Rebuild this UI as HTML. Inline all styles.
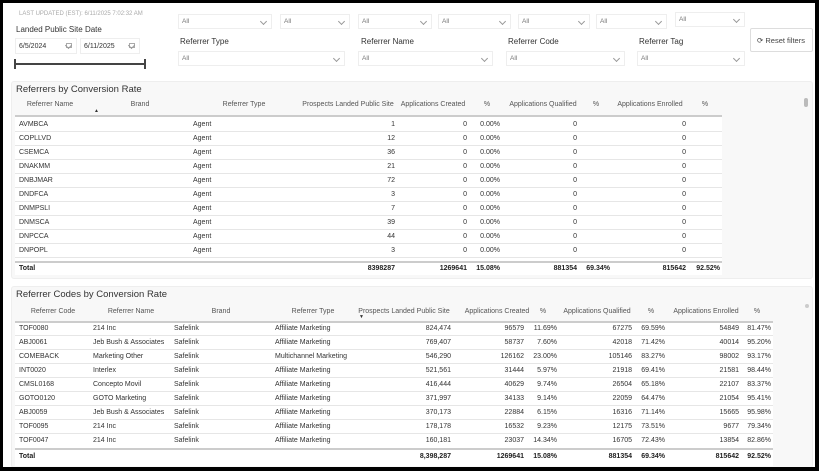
<!DOCTYPE html>
<html><head><meta charset="utf-8"><style>
*{margin:0;padding:0;box-sizing:border-box}
body{width:819px;height:471px;position:relative;background:#fff;font-family:"Liberation Sans",sans-serif;overflow:hidden;color:#333}
.frame{position:absolute;left:0;top:0;width:819px;height:471px;border:3px solid #000;border-right-width:4px;border-bottom-width:4px}
.t{position:absolute;font-size:7px;white-space:nowrap;line-height:9px}
.c{transform:translateX(-50%)}
.g{color:#555}
.b{font-weight:bold;color:#222}
.dd{position:absolute;height:15px;border:1px solid #eee;background:#fff;font-size:6.5px;color:#777;padding:3px 0 0 3px}
.dd:after{content:"";position:absolute;right:5px;top:4px;width:4px;height:4px;border-right:1px solid #999;border-bottom:1px solid #999;transform:rotate(45deg)}
.lbl{position:absolute;font-size:8px;color:#333}
.panel{position:absolute;background:#f8f8f8;border:1px solid #eee;border-radius:3px}
.hl{position:absolute;height:1px;background:#e6e6e6}
.hh{position:absolute;height:2px;background:#ccc}
.wb{position:absolute;background:#fff}
.ic{position:absolute;right:4px;top:4px;width:6px;height:5px;border:1px solid #aaa}
</style></head><body>
<div class="t" style="left:19px;top:10px;font-size:6px;color:#aaa">LAST UPDATED (EST): 6/11/2025 7:02:32 AM</div>
<div class="lbl" style="left:16px;top:25px">Landed Public Site Date</div>
<div class="dd" style="left:15px;top:38px;width:62px;height:16px;color:#333;font-size:7px;padding-top:4px">6/5/2024<span class="ic"></span></div>
<div class="dd" style="left:80px;top:38px;width:60px;height:16px;color:#333;font-size:7px;padding-top:4px">6/11/2025<span class="ic"></span></div>
<div style="position:absolute;left:15px;top:63px;width:130px;height:2px;background:#444"></div>
<div style="position:absolute;left:14px;top:59px;width:2px;height:10px;background:#444"></div>
<div style="position:absolute;left:144px;top:59px;width:2px;height:10px;background:#444"></div>

<div class="dd" style="left:178px;top:14px;width:94px">All</div>
<div class="dd" style="left:280px;top:14px;width:70px">All</div>
<div class="dd" style="left:358px;top:14px;width:74px">All</div>
<div class="dd" style="left:438px;top:14px;width:73px">All</div>
<div class="dd" style="left:518px;top:14px;width:72px">All</div>
<div class="dd" style="left:596px;top:14px;width:71px">All</div>
<div class="dd" style="left:675px;top:12px;width:70px">All</div>
<div class="lbl" style="left:180px;top:37px">Referrer Type</div>
<div class="lbl" style="left:361px;top:37px">Referrer Name</div>
<div class="lbl" style="left:508px;top:37px">Referrer Code</div>
<div class="lbl" style="left:639px;top:37px">Referrer Tag</div>
<div class="dd" style="left:178px;top:51px;width:167px">All</div>
<div class="dd" style="left:358px;top:51px;width:135px">All</div>
<div class="dd" style="left:506px;top:51px;width:119px">All</div>
<div class="dd" style="left:637px;top:51px;width:108px">All</div>
<div style="position:absolute;left:750px;top:28px;width:63px;height:24px;border:1px solid #ddd;border-radius:2px;font-size:7.5px;color:#444;padding:7px 0 0 6px;white-space:nowrap">⟳ Reset filters</div>

<!-- Panel 1 -->
<div class="panel" style="left:11px;top:81px;width:802px;height:198px"></div>
<div class="t" style="left:16px;top:84px;font-size:9.5px;line-height:11px;color:#333">Referrers by Conversion Rate</div>
<div class="wb" style="left:15px;top:116px;width:707px;height:146px"></div>
<div class="wb" style="left:15px;top:262px;width:707px;height:13px"></div>
<div class="t g c" style="left:50px;top:100px">Referrer Name</div>
<div class="t" style="left:94px;top:107px;font-size:5px">▲</div>
<div class="t g c" style="left:140px;top:100px">Brand</div>
<div class="t g c" style="left:244px;top:100px">Referrer Type</div>
<div class="t g c" style="left:348px;top:100px">Prospects Landed Public Site</div>
<div class="t g c" style="left:433px;top:100px">Applications Created</div>
<div class="t g c" style="left:487px;top:100px">%</div>
<div class="t g c" style="left:543px;top:100px">Applications Qualified</div>
<div class="t g c" style="left:596px;top:100px">%</div>
<div class="t g c" style="left:650px;top:100px">Applications Enrolled</div>
<div class="t g c" style="left:705px;top:100px">%</div>
<div class="hh" style="left:15px;top:115px;width:707px"></div>
<div style="position:absolute;left:804px;top:98px;width:4px;height:9px;background:#bbb;border-radius:2px"></div>

<div class="t" style="left:19px;top:120px">AVMBCA</div><div class="t" style="left:193px;top:120px">Agent</div><div class="t" style="right:424px;top:120px">1</div><div class="t" style="right:352px;top:120px">0</div><div class="t" style="right:319px;top:120px">0.00%</div><div class="t" style="right:242px;top:120px">0</div><div class="t" style="right:133px;top:120px">0</div>
<div class="hl" style="left:15px;top:131px;width:707px"></div>
<div class="t" style="left:19px;top:134px">COPLLVD</div><div class="t" style="left:193px;top:134px">Agent</div><div class="t" style="right:424px;top:134px">12</div><div class="t" style="right:352px;top:134px">0</div><div class="t" style="right:319px;top:134px">0.00%</div><div class="t" style="right:242px;top:134px">0</div><div class="t" style="right:133px;top:134px">0</div>
<div class="hl" style="left:15px;top:145px;width:707px"></div>
<div class="t" style="left:19px;top:148px">CSEMCA</div><div class="t" style="left:193px;top:148px">Agent</div><div class="t" style="right:424px;top:148px">36</div><div class="t" style="right:352px;top:148px">0</div><div class="t" style="right:319px;top:148px">0.00%</div><div class="t" style="right:242px;top:148px">0</div><div class="t" style="right:133px;top:148px">0</div>
<div class="hl" style="left:15px;top:159px;width:707px"></div>
<div class="t" style="left:19px;top:162px">DNAKMM</div><div class="t" style="left:193px;top:162px">Agent</div><div class="t" style="right:424px;top:162px">21</div><div class="t" style="right:352px;top:162px">0</div><div class="t" style="right:319px;top:162px">0.00%</div><div class="t" style="right:242px;top:162px">0</div><div class="t" style="right:133px;top:162px">0</div>
<div class="hl" style="left:15px;top:173px;width:707px"></div>
<div class="t" style="left:19px;top:176px">DNBJMAR</div><div class="t" style="left:193px;top:176px">Agent</div><div class="t" style="right:424px;top:176px">72</div><div class="t" style="right:352px;top:176px">0</div><div class="t" style="right:319px;top:176px">0.00%</div><div class="t" style="right:242px;top:176px">0</div><div class="t" style="right:133px;top:176px">0</div>
<div class="hl" style="left:15px;top:187px;width:707px"></div>
<div class="t" style="left:19px;top:190px">DNDFCA</div><div class="t" style="left:193px;top:190px">Agent</div><div class="t" style="right:424px;top:190px">3</div><div class="t" style="right:352px;top:190px">0</div><div class="t" style="right:319px;top:190px">0.00%</div><div class="t" style="right:242px;top:190px">0</div><div class="t" style="right:133px;top:190px">0</div>
<div class="hl" style="left:15px;top:201px;width:707px"></div>
<div class="t" style="left:19px;top:204px">DNMPSLI</div><div class="t" style="left:193px;top:204px">Agent</div><div class="t" style="right:424px;top:204px">7</div><div class="t" style="right:352px;top:204px">0</div><div class="t" style="right:319px;top:204px">0.00%</div><div class="t" style="right:242px;top:204px">0</div><div class="t" style="right:133px;top:204px">0</div>
<div class="hl" style="left:15px;top:215px;width:707px"></div>
<div class="t" style="left:19px;top:218px">DNMSCA</div><div class="t" style="left:193px;top:218px">Agent</div><div class="t" style="right:424px;top:218px">39</div><div class="t" style="right:352px;top:218px">0</div><div class="t" style="right:319px;top:218px">0.00%</div><div class="t" style="right:242px;top:218px">0</div><div class="t" style="right:133px;top:218px">0</div>
<div class="hl" style="left:15px;top:229px;width:707px"></div>
<div class="t" style="left:19px;top:232px">DNPCCA</div><div class="t" style="left:193px;top:232px">Agent</div><div class="t" style="right:424px;top:232px">44</div><div class="t" style="right:352px;top:232px">0</div><div class="t" style="right:319px;top:232px">0.00%</div><div class="t" style="right:242px;top:232px">0</div><div class="t" style="right:133px;top:232px">0</div>
<div class="hl" style="left:15px;top:243px;width:707px"></div>
<div class="t" style="left:19px;top:246px">DNPOPL</div><div class="t" style="left:193px;top:246px">Agent</div><div class="t" style="right:424px;top:246px">3</div><div class="t" style="right:352px;top:246px">0</div><div class="t" style="right:319px;top:246px">0.00%</div><div class="t" style="right:242px;top:246px">0</div><div class="t" style="right:133px;top:246px">0</div>
<div class="hl" style="left:15px;top:257px;width:707px"></div>
<div class="hh" style="left:15px;top:261px;width:707px"></div>
<div class="t b" style="left:19px;top:264px">Total</div><div class="t b" style="right:424px;top:264px">8398287</div><div class="t b" style="right:352px;top:264px">1269641</div><div class="t b" style="right:319px;top:264px">15.08%</div><div class="t b" style="right:242px;top:264px">881354</div><div class="t b" style="right:209px;top:264px">69.34%</div><div class="t b" style="right:133px;top:264px">815642</div><div class="t b" style="right:99px;top:264px">92.52%</div>

<!-- Panel 2 -->
<div class="panel" style="left:11px;top:286px;width:802px;height:182px"></div>
<div class="t" style="left:16px;top:289px;font-size:9.5px;line-height:11px;color:#333">Referrer Codes by Conversion Rate</div>
<div class="wb" style="left:15px;top:322px;width:758px;height:144px"></div>
<div class="t g c" style="left:53px;top:307px">Referrer Code</div>
<div class="t g c" style="left:131px;top:307px">Referrer Name</div>
<div class="t g c" style="left:221px;top:307px">Brand</div>
<div class="t g c" style="left:313px;top:307px">Referrer Type</div>
<div class="t g c" style="left:404px;top:307px">Prospects Landed Public Site</div>
<div class="t" style="left:359px;top:313px;font-size:5px">▼</div>
<div class="t g c" style="left:497px;top:307px">Applications Created</div>
<div class="t g c" style="left:543px;top:307px">%</div>
<div class="t g c" style="left:597px;top:307px">Applications Qualified</div>
<div class="t g c" style="left:651px;top:307px">%</div>
<div class="t g c" style="left:706px;top:307px">Applications Enrolled</div>
<div class="t g c" style="left:757px;top:307px">%</div>
<div class="hh" style="left:15px;top:321px;width:758px"></div>
<div style="position:absolute;left:805px;top:304px;width:4px;height:4px;background:#ccc;border-radius:2px"></div>

<div class="t" style="left:19px;top:324px">TOF0080</div><div class="t" style="left:93px;top:324px">214 Inc</div><div class="t" style="left:174px;top:324px">Safelink</div><div class="t" style="left:275px;top:324px">Affiliate Marketing</div><div class="t" style="right:368px;top:324px">824,474</div><div class="t" style="right:295px;top:324px">96579</div><div class="t" style="right:262px;top:324px">11.69%</div><div class="t" style="right:187px;top:324px">67275</div><div class="t" style="right:154px;top:324px">69.59%</div><div class="t" style="right:80px;top:324px">54849</div><div class="t" style="right:48px;top:324px">81.47%</div>
<div class="hl" style="left:15px;top:335px;width:758px"></div>
<div class="t" style="left:19px;top:338px">ABJ0061</div><div class="t" style="left:93px;top:338px">Jeb Bush &amp; Associates</div><div class="t" style="left:174px;top:338px">Safelink</div><div class="t" style="left:275px;top:338px">Affiliate Marketing</div><div class="t" style="right:368px;top:338px">769,407</div><div class="t" style="right:295px;top:338px">58737</div><div class="t" style="right:262px;top:338px">7.60%</div><div class="t" style="right:187px;top:338px">42018</div><div class="t" style="right:154px;top:338px">71.42%</div><div class="t" style="right:80px;top:338px">40014</div><div class="t" style="right:48px;top:338px">95.20%</div>
<div class="hl" style="left:15px;top:349px;width:758px"></div>
<div class="t" style="left:19px;top:352px">COMEBACK</div><div class="t" style="left:93px;top:352px">Marketing Other</div><div class="t" style="left:174px;top:352px">Safelink</div><div class="t" style="left:275px;top:352px">Multichannel Marketing</div><div class="t" style="right:368px;top:352px">546,290</div><div class="t" style="right:295px;top:352px">126162</div><div class="t" style="right:262px;top:352px">23.00%</div><div class="t" style="right:187px;top:352px">105146</div><div class="t" style="right:154px;top:352px">83.27%</div><div class="t" style="right:80px;top:352px">98002</div><div class="t" style="right:48px;top:352px">93.17%</div>
<div class="hl" style="left:15px;top:363px;width:758px"></div>
<div class="t" style="left:19px;top:366px">INT0020</div><div class="t" style="left:93px;top:366px">Interlex</div><div class="t" style="left:174px;top:366px">Safelink</div><div class="t" style="left:275px;top:366px">Affiliate Marketing</div><div class="t" style="right:368px;top:366px">521,561</div><div class="t" style="right:295px;top:366px">31444</div><div class="t" style="right:262px;top:366px">5.97%</div><div class="t" style="right:187px;top:366px">21918</div><div class="t" style="right:154px;top:366px">69.41%</div><div class="t" style="right:80px;top:366px">21581</div><div class="t" style="right:48px;top:366px">98.44%</div>
<div class="hl" style="left:15px;top:377px;width:758px"></div>
<div class="t" style="left:19px;top:380px">CMSL0168</div><div class="t" style="left:93px;top:380px">Concepto Movil</div><div class="t" style="left:174px;top:380px">Safelink</div><div class="t" style="left:275px;top:380px">Affiliate Marketing</div><div class="t" style="right:368px;top:380px">416,444</div><div class="t" style="right:295px;top:380px">40629</div><div class="t" style="right:262px;top:380px">9.74%</div><div class="t" style="right:187px;top:380px">26504</div><div class="t" style="right:154px;top:380px">65.18%</div><div class="t" style="right:80px;top:380px">22107</div><div class="t" style="right:48px;top:380px">83.37%</div>
<div class="hl" style="left:15px;top:391px;width:758px"></div>
<div class="t" style="left:19px;top:394px">GOTO0120</div><div class="t" style="left:93px;top:394px">GOTO Marketing</div><div class="t" style="left:174px;top:394px">Safelink</div><div class="t" style="left:275px;top:394px">Affiliate Marketing</div><div class="t" style="right:368px;top:394px">371,997</div><div class="t" style="right:295px;top:394px">34133</div><div class="t" style="right:262px;top:394px">9.14%</div><div class="t" style="right:187px;top:394px">22059</div><div class="t" style="right:154px;top:394px">64.47%</div><div class="t" style="right:80px;top:394px">21054</div><div class="t" style="right:48px;top:394px">95.41%</div>
<div class="hl" style="left:15px;top:405px;width:758px"></div>
<div class="t" style="left:19px;top:408px">ABJ0059</div><div class="t" style="left:93px;top:408px">Jeb Bush &amp; Associates</div><div class="t" style="left:174px;top:408px">Safelink</div><div class="t" style="left:275px;top:408px">Affiliate Marketing</div><div class="t" style="right:368px;top:408px">370,173</div><div class="t" style="right:295px;top:408px">22884</div><div class="t" style="right:262px;top:408px">6.15%</div><div class="t" style="right:187px;top:408px">16316</div><div class="t" style="right:154px;top:408px">71.14%</div><div class="t" style="right:80px;top:408px">15665</div><div class="t" style="right:48px;top:408px">95.98%</div>
<div class="hl" style="left:15px;top:419px;width:758px"></div>
<div class="t" style="left:19px;top:422px">TOF0095</div><div class="t" style="left:93px;top:422px">214 Inc</div><div class="t" style="left:174px;top:422px">Safelink</div><div class="t" style="left:275px;top:422px">Affiliate Marketing</div><div class="t" style="right:368px;top:422px">178,178</div><div class="t" style="right:295px;top:422px">16532</div><div class="t" style="right:262px;top:422px">9.23%</div><div class="t" style="right:187px;top:422px">12175</div><div class="t" style="right:154px;top:422px">73.51%</div><div class="t" style="right:80px;top:422px">9677</div><div class="t" style="right:48px;top:422px">79.34%</div>
<div class="hl" style="left:15px;top:433px;width:758px"></div>
<div class="t" style="left:19px;top:436px">TOF0047</div><div class="t" style="left:93px;top:436px">214 Inc</div><div class="t" style="left:174px;top:436px">Safelink</div><div class="t" style="left:275px;top:436px">Affiliate Marketing</div><div class="t" style="right:368px;top:436px">160,181</div><div class="t" style="right:295px;top:436px">23037</div><div class="t" style="right:262px;top:436px">14.34%</div><div class="t" style="right:187px;top:436px">16705</div><div class="t" style="right:154px;top:436px">72.43%</div><div class="t" style="right:80px;top:436px">13854</div><div class="t" style="right:48px;top:436px">82.86%</div>
<div class="hh" style="left:15px;top:448px;width:758px"></div>
<div class="t b" style="left:19px;top:452px">Total</div><div class="t b" style="right:368px;top:452px">8,398,287</div><div class="t b" style="right:295px;top:452px">1269641</div><div class="t b" style="right:262px;top:452px">15.08%</div><div class="t b" style="right:187px;top:452px">881354</div><div class="t b" style="right:154px;top:452px">69.34%</div><div class="t b" style="right:80px;top:452px">815642</div><div class="t b" style="right:48px;top:452px">92.52%</div>

<div class="frame"></div>
</body></html>
